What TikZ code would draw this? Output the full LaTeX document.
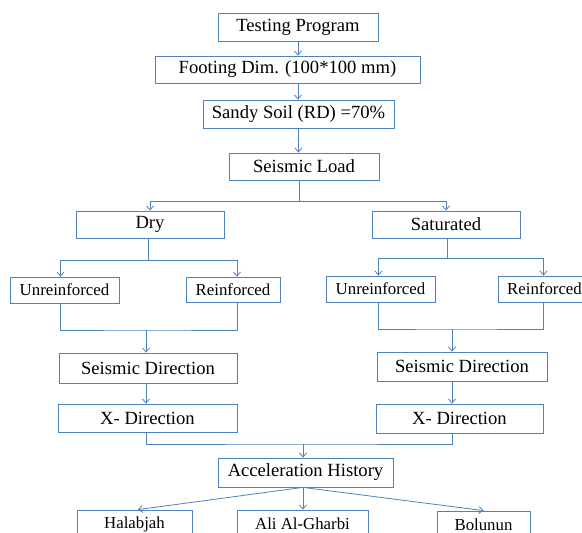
\documentclass[tikz,border=0pt]{standalone}
\usepackage{fontspec}
\setmainfont{Liberation Serif}
\usetikzlibrary{arrows.meta,calc}
\definecolor{boxblue}{RGB}{79,129,189}
\tikzset{
	box/.style = {rectangle, draw=boxblue, line width=0.8pt, inner sep=0pt, align=center, text centered},
	box_big/.style = {box, font=\fontsize{18.6}{20}\selectfont},
	box_small/.style = {box, font=\fontsize{16.8}{18}\selectfont},
	link/.style = {draw=boxblue, line width=0.8pt},
	arrow/.style = {link, ->}
}

\begin{document}
\begin{tikzpicture}[x=1pt, y=-1pt, >={Straight Barb[length=4pt,width=7pt]}]
\useasboundingbox (0,0) rectangle (582,533);
% main column
\node [box_big, minimum width=160, minimum height=28] (prog) at (298,27) {Testing Program};
\node [box_big, minimum width=265, minimum height=27] (foot) at (287.5,69.5) {Footing Dim. (100*100 mm)};
\node [box_big, minimum width=191, minimum height=28] (soil) at (298.5,114) {Sandy Soil (RD) =70\%};
\node [box_big, minimum width=150, minimum height=27] (load) at (304,166.5) {Seismic Load};
% soil state
\node [box_big, minimum width=148, minimum height=27] (dry) at (150,224.5) {Dry};
\node [box_big, minimum width=148, minimum height=27] (sat) at (446,224.5) {Saturated};
\node [box_small, minimum width=109, minimum height=26] (unrL) at (64.5,290) {Unreinforced};
\node [box_small, minimum width=94, minimum height=25] (reinL) at (233,289.5) {Reinforced};
\node [box_small, minimum width=109, minimum height=26] (unrR) at (380.5,289) {Unreinforced};
\node [box_small, minimum width=93, minimum height=26] (reinR) at (544.5,289) {Reinforced};
% direction
\node [box_big, minimum width=178, minimum height=30] (dirL) at (148,368) {Seismic Direction};
\node [box_big, minimum width=170, minimum height=29] (dirR) at (462,366.5) {Seismic Direction};
\node [box_big, minimum width=179, minimum height=28] (xL) at (147.5,418) {X- Direction};
\node [box_big, minimum width=167, minimum height=29] (xR) at (459.5,418.5) {X- Direction};
% records
\node [box_big, minimum width=175, minimum height=29] (acc) at (305.5,472.5) {Acceleration History};
\node [box_small, minimum width=115, minimum height=28] (hal) at (134.5,524) {Halabjah};
\node [box_small, minimum width=131, minimum height=28] (ali) at (302.5,524) {Ali Al-Gharbi};
\node [box_small, minimum width=93, minimum height=28] (bol) at (483.5,525) {Bolunun};

\coordinate (loadsplit) at (299,201);
\coordinate (drysplit) at (148,260);
\coordinate (satsplit) at (447,258);
\coordinate (drymerge) at (146,330);
\coordinate (satmerge) at (452,329);
\coordinate (xmerge) at (303,444);

\draw [arrow] (prog.south) -- (prog.south |- foot.north);
\draw [arrow] (prog.south |- foot.south) -- (prog.south |- soil.north);
\draw [arrow] (soil.south) -- (soil.south |- load.north);
\draw [link] (loadsplit |- load.south) -- (loadsplit);
\draw [arrow] (loadsplit) -| (dry.north);
\draw [arrow] (loadsplit) -| (sat.north);
% dry branch
\draw [link] (drysplit |- dry.south) -- (drysplit);
\draw [arrow] (drysplit) -| ([xshift=-4pt]unrL.north);
\draw [arrow] (drysplit) -| ([xshift=4pt]reinL.north);
\draw [link] ([xshift=-4pt]unrL.south) |- (drymerge) -| ([xshift=4pt]reinL.south);
\draw [arrow] (drymerge) -- (drymerge |- dirL.north);
\draw [arrow] (drymerge |- dirL.south) -- (drymerge |- xL.north);
% saturated branch
\draw [link] (satsplit |- sat.south) -- (satsplit);
\draw [arrow] (satsplit) -| ([xshift=-2pt]unrR.north);
\draw [arrow] (satsplit) -| ([xshift=-1pt]reinR.north);
\draw [link] ([xshift=-2pt]unrR.south) |- (satmerge) -| ([xshift=-1pt]reinR.south);
\draw [arrow] (satmerge) -- (satmerge |- dirR.north);
\draw [arrow] (satmerge |- dirR.south) -- (satmerge |- xR.north);
% records
\draw [link] (drymerge |- xL.south) |- (xmerge) -| (satmerge |- xR.south);
\draw [arrow] (xmerge) -- (xmerge |- acc.north);
\draw [arrow] (xmerge |- acc.south) -- ([xshift=3.5pt]hal.north);
\draw [arrow] (xmerge |- acc.south) -- (xmerge |- ali.north);
\draw [arrow] (xmerge |- acc.south) -- (bol.north);
\end{tikzpicture}
\end{document}
